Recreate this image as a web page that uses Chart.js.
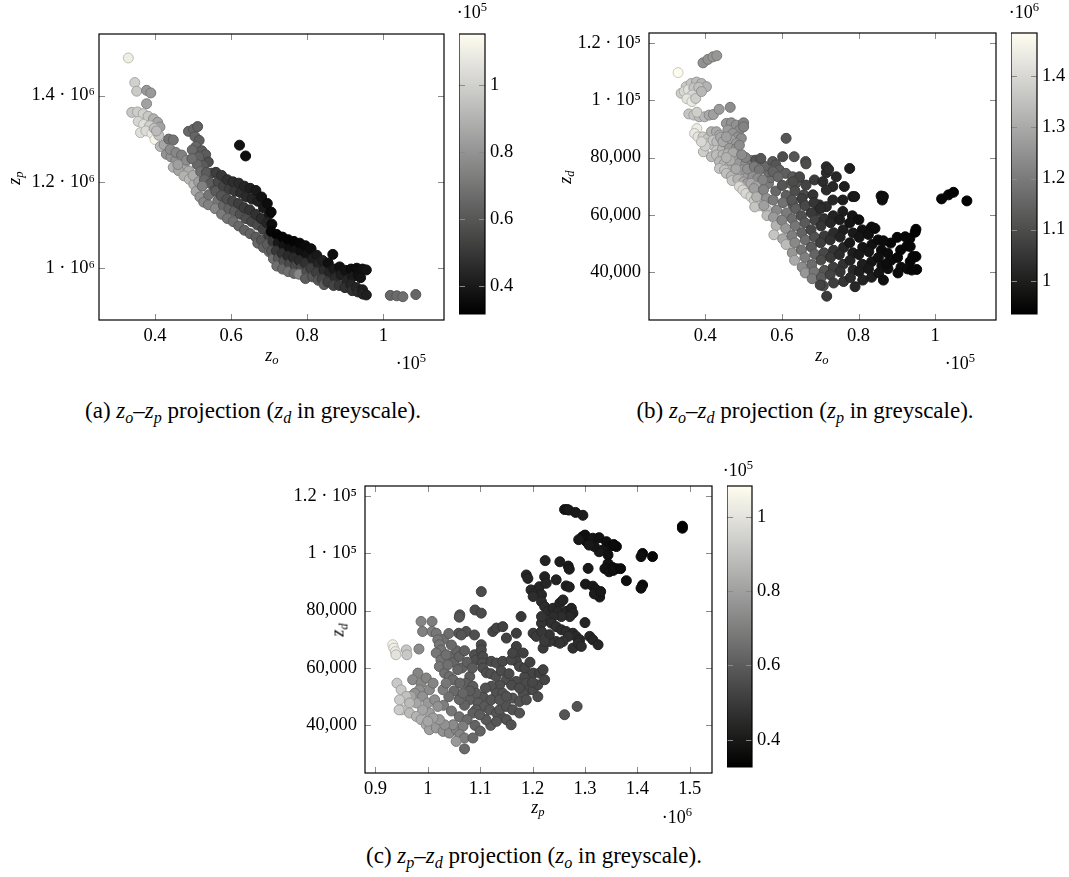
<!DOCTYPE html>
<html>
<head>
<meta charset="utf-8">
<script src="https://cdn.jsdelivr.net/npm/chart.js@4.4.1/dist/chart.umd.min.js"></script>
<style>
  body { margin: 0; background: #fff; width: 1069px; height: 877px; position: relative; overflow: hidden;
         font-family: 'Liberation Serif', 'DejaVu Serif', serif; color: #000; }
  canvas { position: absolute; }
  .t { position: absolute; transform: translate(-50%, -50%); white-space: nowrap; font-size: 18px; }
  .rot { transform: translate(-50%, -50%) rotate(-90deg); }
  .cap { position: absolute; transform: translate(-50%, -50%); white-space: nowrap; font-size: 23px; }
  sub { font-size: 70%; vertical-align: -0.3em; line-height: 0; }
  sup { font-size: 70%; vertical-align: 0.5em; line-height: 0; }
</style>
</head>
<body>
<canvas id="chartA"></canvas>
<canvas id="cbarA"></canvas>
<canvas id="chartB"></canvas>
<canvas id="cbarB"></canvas>
<canvas id="chartC"></canvas>
<canvas id="cbarC"></canvas>

<!-- axis titles and multipliers -->
<div class="t" style="left:272px;top:355px"><i>z</i><sub><i>o</i></sub></div>
<div class="t rot" style="left:14px;top:178px"><i>z</i><sub><i>p</i></sub></div>
<div class="t" style="left:411px;top:363px">·10<sup>5</sup></div>
<div class="t" style="left:472px;top:12px">·10<sup>5</sup></div>

<div class="t" style="left:822px;top:355px"><i>z</i><sub><i>o</i></sub></div>
<div class="t rot" style="left:565px;top:177px"><i>z</i><sub><i>d</i></sub></div>
<div class="t" style="left:960px;top:363px">·10<sup>5</sup></div>
<div class="t" style="left:1024px;top:12px">·10<sup>6</sup></div>

<div class="t" style="left:538px;top:807px"><i>z</i><sub><i>p</i></sub></div>
<div class="t rot" style="left:338px;top:630px"><i>z</i><sub><i>d</i></sub></div>
<div class="t" style="left:677px;top:817px">·10<sup>6</sup></div>
<div class="t" style="left:738px;top:470px">·10<sup>5</sup></div>

<!-- captions -->
<div class="cap" style="left:253px;top:411px">(a) <i>z</i><sub><i>o</i></sub>–<i>z</i><sub><i>p</i></sub> projection (<i>z</i><sub><i>d</i></sub> in greyscale).</div>
<div class="cap" style="left:805px;top:411px">(b) <i>z</i><sub><i>o</i></sub>–<i>z</i><sub><i>d</i></sub> projection (<i>z</i><sub><i>p</i></sub> in greyscale).</div>
<div class="cap" style="left:534px;top:856px">(c) <i>z</i><sub><i>p</i></sub>–<i>z</i><sub><i>d</i></sub> projection (<i>z</i><sub><i>o</i></sub> in greyscale).</div>

<script>
// Units: z_o in 1e5, z_p in 1e6, z_d in 1e5

// (a) points: [z_o, z_p, z_d]
const ptsA = [
  [0.330,1.487,1.10],[0.347,1.430,1.00],[0.352,1.410,0.98],[0.378,1.412,0.82],[0.389,1.406,0.82],[0.378,1.381,0.85],
  [0.339,1.361,0.97],[0.354,1.362,0.99],[0.369,1.358,1.00],[0.382,1.352,0.97],[0.396,1.346,0.90],[0.407,1.338,0.86],[0.413,1.327,0.85],
  [0.356,1.340,1.02],[0.370,1.333,1.05],[0.386,1.330,1.00],[0.362,1.314,1.05],[0.376,1.318,1.04],[0.392,1.312,1.08],[0.400,1.298,1.13],
  [0.410,1.308,0.96],[0.414,1.282,0.92],[0.424,1.286,0.86],[0.398,1.324,0.95],[0.404,1.318,0.93],
  [0.436,1.299,0.70],[0.448,1.297,0.70],[0.430,1.264,0.80],[0.442,1.258,0.80],[0.455,1.250,0.80],[0.467,1.244,0.84],[0.477,1.234,0.86],[0.489,1.225,0.88],
  [0.448,1.234,0.90],[0.462,1.226,0.86],[0.476,1.214,0.90],[0.490,1.206,0.92],[0.502,1.194,0.90],[0.508,1.178,0.86],[0.518,1.165,0.80],[0.528,1.153,0.76],[0.540,1.147,0.74],
  [0.440,1.275,0.78],[0.455,1.268,0.76],[0.470,1.262,0.74],[0.483,1.250,0.78],[0.460,1.240,0.84],[0.500,1.215,0.88],[0.515,1.200,0.84],
  [0.488,1.317,0.66],[0.501,1.322,0.65],[0.512,1.328,0.64],[0.505,1.305,0.65],[0.516,1.296,0.63],[0.508,1.282,0.66],[0.523,1.272,0.62],[0.533,1.263,0.62],
  [0.498,1.274,0.67],[0.515,1.258,0.64],[0.540,1.246,0.58],[0.527,1.238,0.62],[0.549,1.220,0.56],[0.511,1.240,0.66],[0.497,1.254,0.68],[0.520,1.224,0.68],
  [0.535,1.222,0.62],[0.530,1.205,0.66],[0.546,1.196,0.62],[0.524,1.190,0.74],[0.556,1.180,0.60],[0.541,1.170,0.70],
  [0.622,1.285,0.38],[0.638,1.260,0.36],
  [0.560,1.222,0.52],[0.566,1.200,0.56],[0.560,1.178,0.62],[0.565,1.156,0.70],[0.558,1.138,0.76],
  [0.575,1.215,0.50],[0.580,1.190,0.54],[0.574,1.168,0.60],[0.580,1.145,0.66],[0.575,1.125,0.72],
  [0.590,1.205,0.48],[0.595,1.183,0.52],[0.589,1.160,0.58],[0.594,1.138,0.64],[0.590,1.115,0.70],
  [0.605,1.200,0.47],[0.610,1.178,0.50],[0.604,1.155,0.55],[0.609,1.132,0.62],[0.605,1.108,0.68],
  [0.620,1.197,0.46],[0.625,1.175,0.47],[0.619,1.150,0.52],[0.624,1.125,0.58],[0.620,1.098,0.66],
  [0.635,1.190,0.44],[0.640,1.165,0.46],[0.634,1.140,0.51],[0.639,1.115,0.57],[0.635,1.088,0.64],
  [0.650,1.185,0.42],[0.655,1.160,0.44],[0.649,1.135,0.49],[0.654,1.108,0.55],[0.650,1.080,0.64],
  [0.665,1.180,0.40],[0.670,1.155,0.42],[0.664,1.125,0.48],[0.669,1.100,0.56],[0.665,1.072,0.62],[0.670,1.058,0.66],
  [0.680,1.165,0.38],[0.685,1.140,0.40],[0.679,1.115,0.46],[0.684,1.090,0.53],[0.680,1.065,0.60],[0.685,1.048,0.64],
  [0.695,1.150,0.36],[0.700,1.125,0.40],[0.694,1.105,0.44],[0.699,1.075,0.52],[0.695,1.055,0.62],[0.700,1.038,0.66],
  [0.705,1.130,0.35],[0.707,1.102,0.36],[0.705,1.085,0.34],[0.710,1.062,0.50],[0.706,1.040,0.60],[0.711,1.022,0.68],
  [0.720,1.078,0.33],[0.724,1.058,0.40],[0.719,1.040,0.50],[0.724,1.022,0.60],[0.720,1.005,0.68],
  [0.735,1.072,0.33],[0.739,1.052,0.38],[0.734,1.034,0.48],[0.739,1.016,0.58],[0.735,0.998,0.66],
  [0.750,1.066,0.33],[0.754,1.046,0.37],[0.749,1.028,0.46],[0.754,1.010,0.56],[0.750,0.992,0.68],
  [0.765,1.062,0.33],[0.769,1.042,0.38],[0.764,1.024,0.46],[0.769,1.005,0.56],[0.765,0.988,0.66],
  [0.780,1.058,0.34],[0.784,1.038,0.37],[0.779,1.018,0.46],[0.784,1.000,0.56],[0.778,0.986,0.76],
  [0.795,1.052,0.35],[0.799,1.032,0.38],[0.794,1.012,0.48],[0.799,0.992,0.58],[0.795,0.976,0.62],
  [0.810,1.045,0.36],[0.814,1.022,0.42],[0.809,1.000,0.52],[0.814,0.980,0.60],
  [0.825,1.030,0.40],[0.829,1.010,0.44],[0.824,0.990,0.52],[0.829,0.972,0.60],
  [0.840,1.018,0.42],[0.844,0.995,0.46],[0.839,0.975,0.54],[0.844,0.962,0.62],
  [0.855,1.012,0.37],[0.859,0.990,0.44],[0.854,0.968,0.52],[0.867,1.032,0.36],
  [0.870,0.998,0.40],[0.874,0.978,0.46],[0.869,0.960,0.54],
  [0.885,1.003,0.37],[0.889,0.985,0.42],[0.884,0.960,0.50],
  [0.900,0.995,0.38],[0.904,0.972,0.44],[0.899,0.955,0.48],
  [0.915,0.998,0.36],[0.919,0.980,0.40],[0.914,0.962,0.44],[0.918,0.948,0.48],
  [0.930,1.000,0.36],[0.934,0.985,0.37],[0.929,0.955,0.44],[0.933,0.945,0.46],
  [0.945,0.998,0.37],[0.940,0.978,0.38],[0.945,0.950,0.42],[0.946,0.940,0.44],
  [0.955,0.996,0.38],[0.955,0.938,0.42],
  [1.018,0.937,0.66],[1.035,0.936,0.67],[1.051,0.934,0.68],[1.085,0.939,0.65]
];

// (b) points: [z_o, z_d, z_p]
const ptsB = [
  [0.329,1.096,1.48],
  [0.394,1.130,1.25],[0.407,1.142,1.25],[0.420,1.151,1.26],[0.430,1.155,1.26],
  [0.337,1.024,1.38],[0.350,1.047,1.37],[0.363,1.058,1.36],[0.377,1.063,1.34],[0.390,1.058,1.33],[0.403,1.047,1.32],
  [0.345,1.030,1.40],[0.356,1.036,1.42],[0.370,1.043,1.36],[0.383,1.045,1.35],[0.366,1.018,1.40],[0.352,1.005,1.43],
  [0.365,0.995,1.44],[0.375,1.006,1.38],[0.390,1.030,1.33],
  [0.357,0.952,1.36],[0.370,0.948,1.36],[0.384,0.942,1.34],[0.398,0.942,1.33],[0.410,0.948,1.30],[0.421,0.950,1.28],[0.436,0.968,1.27],[0.378,0.958,1.38],
  [0.465,0.975,1.24],
  [0.378,0.901,1.45],[0.372,0.884,1.44],[0.381,0.872,1.43],
  [0.394,0.872,1.38],[0.407,0.867,1.36],[0.416,0.890,1.32],[0.429,0.890,1.30],[0.437,0.878,1.30],[0.407,0.849,1.37],[0.420,0.843,1.36],
  [0.420,0.860,1.36],[0.430,0.855,1.34],[0.440,0.870,1.30],[0.430,0.825,1.36],[0.445,0.830,1.33],[0.395,0.820,1.38],[0.400,0.840,1.38],[0.390,0.855,1.40],
  [0.455,0.919,1.26],[0.468,0.921,1.25],[0.481,0.913,1.25],[0.489,0.896,1.24],[0.500,0.921,1.22],[0.500,0.907,1.22],
  [0.459,0.896,1.27],[0.472,0.884,1.26],[0.485,0.872,1.25],[0.494,0.867,1.24],[0.468,0.861,1.28],[0.481,0.849,1.27],[0.446,0.855,1.30],[0.455,0.872,1.28],
  [0.463,0.832,1.27],[0.481,0.832,1.25],[0.489,0.843,1.24],
  [0.416,0.803,1.34],[0.429,0.809,1.34],[0.446,0.809,1.33],[0.459,0.814,1.32],[0.472,0.817,1.30],
  [0.437,0.786,1.33],[0.450,0.780,1.32],[0.463,0.768,1.31],[0.476,0.786,1.29],[0.489,0.780,1.27],[0.506,0.780,1.25],[0.498,0.757,1.27],[0.511,0.733,1.28],
  [0.481,0.745,1.30],[0.437,0.762,1.36],[0.450,0.757,1.35],
  [0.455,0.745,1.35],[0.468,0.735,1.33],[0.470,0.720,1.36],[0.485,0.725,1.32],[0.500,0.715,1.30],[0.515,0.690,1.32],[0.510,0.710,1.28],
  [0.522,0.680,1.33],[0.540,0.700,1.25],[0.545,0.680,1.28],[0.550,0.660,1.30],[0.545,0.650,1.33],[0.560,0.620,1.36],[0.570,0.600,1.36],
  [0.565,0.710,1.20],[0.570,0.730,1.18],[0.565,0.750,1.17],[0.555,0.770,1.16],[0.520,0.790,1.20],[0.505,0.800,1.22],[0.495,0.810,1.24],
  [0.510,0.760,1.25],[0.480,0.760,1.30],[0.465,0.790,1.31],[0.455,0.800,1.32],
  [0.532,0.791,1.12],[0.545,0.797,1.12],[0.528,0.768,1.20],[0.541,0.757,1.19],[0.524,0.733,1.25],[0.537,0.728,1.24],[0.550,0.722,1.22],[0.519,0.710,1.30],
  [0.489,0.699,1.40],[0.498,0.687,1.40],[0.506,0.675,1.40],[0.519,0.664,1.39],[0.528,0.650,1.38],[0.541,0.632,1.38],[0.532,0.699,1.30],
  [0.576,0.786,1.13],[0.584,0.775,1.12],[0.602,0.803,1.10],[0.632,0.803,1.12],[0.662,0.786,1.10],[0.593,0.757,1.14],[0.610,0.745,1.14],
  [0.628,0.733,1.13],[0.645,0.728,1.11],[0.636,0.710,1.12],[0.623,0.710,1.15],
  [0.611,0.867,1.12],[0.663,0.778,1.10],[0.577,0.751,1.15],[0.590,0.733,1.16],
  [0.646,0.733,1.09],[0.629,0.716,1.10],[0.663,0.704,1.08],[0.685,0.722,1.06],[0.657,0.670,1.09],[0.716,0.768,1.03],[0.716,0.747,1.03],
  [0.742,0.733,1.02],[0.777,0.762,1.00],[0.707,0.716,1.03],[0.733,0.699,1.02],[0.716,0.687,1.03],[0.763,0.699,1.00],[0.785,0.664,0.99],
  [0.859,0.666,0.97],[0.862,0.652,0.97],[0.865,0.664,0.97],
  [0.759,0.652,1.00],[0.759,0.612,1.00],[0.733,0.652,1.02],[0.681,0.670,1.05],[0.698,0.635,1.03],[0.620,0.652,1.12],[0.629,0.635,1.12],
  [0.659,0.635,1.08],[0.690,0.612,1.05],[0.716,0.629,1.03],[0.722,0.759,1.03],[0.790,0.664,0.99],
  [1.017,0.656,0.95],[1.035,0.670,0.95],[1.048,0.679,0.94],[1.083,0.649,0.94],
  [0.527,0.692,1.28],[0.534,0.663,1.32],[0.529,0.628,1.36],
  [0.552,0.688,1.22],[0.560,0.657,1.25],[0.553,0.633,1.28],[0.561,0.598,1.34],
  [0.584,0.683,1.16],[0.577,0.652,1.20],[0.586,0.617,1.23],[0.578,0.592,1.27],[0.585,0.563,1.32],[0.579,0.531,1.36],
  [0.601,0.703,1.12],[0.611,0.668,1.14],[0.603,0.643,1.18],[0.612,0.607,1.20],[0.600,0.582,1.22],[0.610,0.553,1.26],[0.602,0.517,1.30],[0.611,0.497,1.34],
  [0.634,0.684,1.10],[0.626,0.652,1.12],[0.636,0.622,1.14],[0.627,0.587,1.17],[0.635,0.562,1.19],[0.626,0.528,1.21],[0.634,0.503,1.23],[0.627,0.468,1.26],[0.633,0.442,1.30],
  [0.652,0.657,1.07],[0.661,0.632,1.09],[0.651,0.597,1.11],[0.660,0.573,1.13],[0.652,0.538,1.15],[0.661,0.513,1.17],[0.651,0.478,1.19],[0.660,0.452,1.21],[0.653,0.418,1.24],[0.661,0.398,1.26],
  [0.684,0.643,1.05],[0.677,0.607,1.06],[0.686,0.582,1.08],[0.676,0.548,1.09],[0.685,0.523,1.11],[0.677,0.488,1.13],[0.686,0.463,1.15],[0.678,0.427,1.17],[0.684,0.402,1.19],[0.679,0.378,1.20],
  [0.701,0.623,1.03],[0.710,0.587,1.04],[0.702,0.562,1.05],[0.711,0.527,1.06],[0.701,0.503,1.07],[0.710,0.468,1.09],[0.702,0.443,1.10],[0.711,0.407,1.12],[0.703,0.383,1.13],[0.708,0.353,1.10],
  [0.734,0.597,1.01],[0.727,0.573,1.02],[0.735,0.538,1.03],[0.726,0.513,1.04],[0.735,0.477,1.05],[0.727,0.452,1.06],[0.734,0.418,1.07],[0.726,0.392,1.08],[0.735,0.363,1.07],
  [0.751,0.583,1.00],[0.760,0.548,1.00],[0.752,0.523,1.01],[0.761,0.487,1.02],[0.750,0.462,1.03],[0.760,0.428,1.04],[0.752,0.402,1.05],[0.761,0.368,1.05],
  [0.784,0.597,0.98],[0.777,0.572,0.98],[0.786,0.537,0.99],[0.777,0.503,0.99],[0.785,0.468,1.00],[0.778,0.442,1.01],[0.786,0.408,1.02],[0.779,0.382,1.03],
  [0.801,0.583,0.97],[0.810,0.548,0.97],[0.802,0.522,0.98],[0.811,0.487,0.98],[0.801,0.462,0.99],[0.810,0.428,1.00],[0.802,0.403,1.00],[0.811,0.373,1.01],
  [0.834,0.558,0.96],[0.826,0.532,0.97],[0.835,0.497,0.97],[0.827,0.472,0.98],[0.834,0.437,0.98],[0.826,0.412,0.99],[0.834,0.383,1.00],
  [0.851,0.513,0.96],[0.860,0.478,0.96],[0.852,0.452,0.97],[0.861,0.423,0.97],[0.853,0.398,0.98],
  [0.884,0.502,0.95],[0.876,0.467,0.96],[0.885,0.442,0.96],[0.877,0.413,0.97],
  [0.901,0.522,0.95],[0.910,0.478,0.95],[0.902,0.452,0.95],[0.911,0.418,0.96],[0.903,0.398,0.96],
  [0.934,0.518,0.95],[0.927,0.492,0.95],[0.935,0.438,0.95],[0.928,0.412,0.96],
  [0.950,0.550,0.94],[0.948,0.540,0.94],[0.950,0.455,0.95],[0.952,0.410,0.95],
  [0.843,0.553,0.96],[0.865,0.510,0.96],[0.922,0.524,0.95],[0.935,0.490,0.95],[0.942,0.455,0.95],[0.939,0.408,0.95],
  [0.874,0.431,0.96],[0.865,0.373,0.97],[0.791,0.350,1.02],[0.717,0.317,1.06],[0.700,0.356,1.08]
];

// (c) points: [z_p, z_d, z_o]
const ptsC = [
  [1.261,1.152,0.39],[1.266,1.152,0.39],[1.269,1.150,0.40],[1.282,1.142,0.40],[1.296,1.132,0.41],
  [1.486,1.094,0.33],[1.486,1.087,0.33],
  [1.295,1.057,0.38],[1.303,1.040,0.38],[1.312,1.034,0.39],[1.300,1.063,0.37],[1.315,1.052,0.39],[1.327,1.054,0.38],[1.341,1.040,0.37],
  [1.347,1.023,0.37],[1.334,1.011,0.39],[1.344,0.994,0.38],[1.360,1.023,0.36],[1.327,1.005,0.40],[1.318,1.023,0.39],[1.308,1.028,0.40],
  [1.288,1.047,0.40],[1.355,1.030,0.36],
  [1.410,0.999,0.36],[1.407,0.988,0.37],[1.429,0.988,0.35],
  [1.344,0.964,0.38],[1.353,0.950,0.37],[1.360,0.946,0.37],[1.338,0.946,0.38],[1.346,0.935,0.38],[1.354,0.940,0.37],[1.368,0.946,0.36],
  [1.306,0.947,0.40],[1.268,0.955,0.41],[1.270,0.944,0.41],[1.252,0.970,0.42],[1.224,0.974,0.43],
  [1.379,0.904,0.37],[1.410,0.889,0.36],[1.407,0.878,0.37],
  [1.301,0.892,0.40],[1.315,0.885,0.40],[1.321,0.873,0.40],[1.325,0.858,0.40],[1.328,0.847,0.40],[1.318,0.858,0.41],[1.330,0.866,0.40],
  [1.264,0.886,0.42],[1.270,0.882,0.42],[1.245,0.907,0.43],
  [1.188,0.924,0.44],[1.191,0.912,0.44],[1.197,0.872,0.45],[1.204,0.860,0.45],[1.213,0.883,0.44],[1.217,0.855,0.45],[1.201,0.849,0.46],
  [1.223,0.918,0.43],[1.226,0.895,0.44],[1.217,0.831,0.46],[1.223,0.814,0.46],[1.229,0.797,0.46],[1.239,0.808,0.45],[1.252,0.826,0.44],
  [1.258,0.837,0.44],[1.248,0.797,0.45],[1.264,0.797,0.44],[1.274,0.808,0.43],[1.277,0.791,0.44],[1.271,0.779,0.45],[1.255,0.779,0.46],
  [1.239,0.779,0.46],[1.226,0.767,0.47],[1.217,0.756,0.48],[1.236,0.756,0.47],[1.245,0.744,0.47],[1.255,0.733,0.46],[1.264,0.727,0.46],
  [1.277,0.721,0.45],[1.283,0.710,0.45],[1.290,0.698,0.45],[1.268,0.710,0.47],[1.258,0.692,0.48],[1.245,0.692,0.48],[1.232,0.692,0.49],
  [1.252,0.686,0.48],[1.277,0.669,0.47],[1.287,0.686,0.46],[1.293,0.675,0.46],[1.309,0.710,0.44],[1.315,0.698,0.44],[1.325,0.681,0.44],
  [1.217,0.779,0.48],[1.201,0.721,0.50],[1.207,0.710,0.50],[1.220,0.669,0.50],[1.232,0.716,0.48],[1.217,0.727,0.49],[1.223,0.692,0.50],
  [1.300,0.758,0.44],
  [1.102,0.866,0.55],[1.090,0.802,0.55],[1.102,0.791,0.55],[1.061,0.785,0.58],[1.060,0.777,0.58],[1.073,0.727,0.57],[1.089,0.715,0.56],
  [1.124,0.727,0.53],[1.131,0.739,0.53],[1.143,0.744,0.52],[1.150,0.704,0.52],[1.169,0.721,0.51],[1.178,0.779,0.49],[1.169,0.675,0.52],
  [1.182,0.652,0.52],[1.166,0.640,0.53],[1.169,0.623,0.53],
  [1.089,0.646,0.56],[1.092,0.628,0.56],[1.102,0.681,0.55],[1.102,0.663,0.55],[1.105,0.640,0.55],[1.104,0.617,0.56],[1.105,0.600,0.56],[1.112,0.583,0.56],
  [1.121,0.623,0.55],[1.131,0.617,0.55],[1.143,0.623,0.54],[1.159,0.628,0.54],[1.162,0.652,0.53],[1.175,0.605,0.54],[1.185,0.570,0.54],
  [1.188,0.547,0.55],[1.201,0.582,0.53],[1.213,0.582,0.52],[1.220,0.594,0.52],[1.194,0.524,0.55],[1.182,0.512,0.56],[1.169,0.553,0.55],
  [1.150,0.559,0.56],[1.137,0.541,0.56],[1.121,0.536,0.57],[1.131,0.512,0.57],[1.143,0.512,0.57],[1.162,0.495,0.57],[1.175,0.483,0.57],
  [1.188,0.489,0.56],[1.201,0.524,0.55],[1.210,0.541,0.54],[1.223,0.559,0.53],
  [1.120,0.580,0.56],[1.130,0.570,0.56],[1.140,0.590,0.55],[1.155,0.580,0.55],[1.160,0.540,0.55],[1.175,0.530,0.55],[1.185,0.600,0.53],
  [1.195,0.620,0.52],[1.200,0.550,0.54],[1.210,0.500,0.55],[1.140,0.430,0.58],[1.120,0.400,0.60],[1.105,0.500,0.58],[1.110,0.530,0.57],
  [1.080,0.570,0.60],[1.073,0.547,0.61],[1.086,0.536,0.60],[1.092,0.512,0.60],[1.080,0.489,0.61],[1.096,0.478,0.60],[1.108,0.466,0.59],
  [1.118,0.454,0.59],[1.092,0.454,0.60],[1.131,0.443,0.58],[1.137,0.454,0.58],[1.150,0.466,0.57],[1.162,0.454,0.57],[1.175,0.443,0.57],
  [1.111,0.420,0.59],[1.131,0.414,0.58],[1.150,0.420,0.57],[1.159,0.402,0.57],[1.086,0.443,0.61],[1.099,0.437,0.60],[1.121,0.489,0.58],
  [1.137,0.489,0.58],[1.150,0.501,0.57],
  [1.261,0.437,0.58],[1.285,0.466,0.57],[1.059,0.721,0.58],[1.064,0.715,0.58],
  [1.045,0.640,0.64],[1.050,0.620,0.63],[1.055,0.660,0.63],[1.045,0.680,0.64],[1.030,0.700,0.66],[1.040,0.720,0.65],[1.060,0.640,0.62],
  [1.065,0.600,0.62],[1.075,0.620,0.61],[1.070,0.660,0.61],[1.085,0.600,0.60],[1.080,0.520,0.60],[1.070,0.470,0.62],[1.060,0.490,0.63],
  [1.050,0.520,0.64],[1.040,0.500,0.66],[1.030,0.470,0.70],[1.045,0.450,0.68],[1.060,0.430,0.66],[1.075,0.420,0.64],[1.090,0.400,0.62],[1.100,0.380,0.62],
  [0.987,0.762,0.72],[1.008,0.762,0.70],[0.990,0.727,0.71],[1.008,0.727,0.70],[0.983,0.666,0.74],[0.959,0.663,0.92],[0.960,0.646,0.92],
  [0.933,0.681,1.05],[0.935,0.669,1.04],[0.938,0.657,1.03],[0.939,0.646,1.00],
  [1.016,0.721,0.68],[1.019,0.698,0.68],[1.022,0.681,0.68],[1.025,0.663,0.67],[1.016,0.652,0.68],[1.025,0.628,0.67],[1.022,0.605,0.68],
  [1.032,0.582,0.66],[1.035,0.646,0.66],[1.038,0.611,0.66],[1.041,0.570,0.65],[1.048,0.559,0.64],[1.057,0.594,0.63],[1.061,0.547,0.63],
  [1.067,0.512,0.63],[1.029,0.524,0.70],[1.035,0.547,0.68],
  [0.981,0.582,0.72],[0.971,0.559,0.74],[0.987,0.547,0.73],[0.997,0.565,0.72],[0.984,0.524,0.75],[0.975,0.512,0.76],[0.990,0.501,0.76],
  [1.003,0.524,0.74],[1.010,0.547,0.72],[1.000,0.478,0.78],[1.013,0.489,0.75],[1.019,0.466,0.76],[1.003,0.443,0.80],[0.990,0.454,0.82],
  [0.978,0.478,0.82],[0.968,0.501,0.82],
  [0.941,0.547,0.92],[0.949,0.524,0.92],[0.959,0.501,0.90],[0.946,0.489,0.93],[0.965,0.478,0.88],[0.950,0.454,0.92],[0.965,0.443,0.88],
  [0.945,0.454,0.93],[0.978,0.431,0.86],[0.987,0.420,0.85],[0.997,0.402,0.83],[1.003,0.385,0.80],[1.016,0.391,0.78],[1.029,0.379,0.76],
  [1.041,0.373,0.74],[1.054,0.385,0.72],[1.067,0.397,0.70],[1.048,0.402,0.74],[1.061,0.368,0.72],[1.070,0.356,0.70],[1.054,0.344,0.78],
  [1.070,0.318,0.64],[1.086,0.356,0.64],[1.032,0.402,0.76],[1.022,0.420,0.78],[1.010,0.426,0.80],[1.000,0.414,0.82]
];

// tick positions
const zoTicks = [0.4, 0.6, 0.8, 1];
const zpTicksA = [1, 1.2, 1.4];
const zdTicks = [0.4, 0.6, 0.8, 1, 1.2];
const zpTicksC = [0.9, 1, 1.1, 1.2, 1.3, 1.4, 1.5];
const cbTicksA = [0.4, 0.6, 0.8, 1];
const cbTicksB = [1, 1.1, 1.2, 1.3, 1.4];
const cbTicksC = [0.4, 0.6, 0.8, 1];

// axis and colour ranges
const zoRange = [0.253, 1.159];
const zpRange = [0.880, 1.5425];
const zdRange = [0.234, 1.234];
const zdColour = [0.318, 1.153];
const zpColour = [0.935, 1.485];
const zoColour = [0.327, 1.083];

Chart.defaults.font.family = "'Liberation Serif', 'DejaVu Serif', serif";
Chart.defaults.font.size = 18.5;
Chart.defaults.color = '#000';

// Function to map a value to the grey colormap
function greyRGB(v, range) {
  let t = (v - range[0]) / (range[1] - range[0]);
  t = Math.max(0, Math.min(1, t));
  const r = Math.round(255 * t);
  const b = Math.round(255 * t - 16 * Math.pow(t, 8));
  return [r, r - Math.round(2 * Math.pow(t, 8)), b];
}

function rgbStr(c, k) {
  return `rgb(${Math.round(c[0] * k)}, ${Math.round(c[1] * k)}, ${Math.round(c[2] * k)})`;
}

// Tick label formats
function plainLabel(v) { return String(v); }
function zpLabel(v) { return v + ' · 10⁶'; }
function zdLabel(v) {
  if (v < 1) return Math.round(v * 1e5).toLocaleString('en-US');
  return v + ' · 10⁵';
}

// Inner tick marks on both sides and a box round the plot area
const frame = {
  id: 'frame',
  afterDraw(chart) {
    const ctx = chart.ctx;
    const a = chart.chartArea;
    ctx.save();
    ctx.strokeStyle = '#8a8a8a';
    ctx.lineWidth = 1;
    Object.values(chart.scales).forEach(scale => {
      if (!scale.options.display) return;
      scale.ticks.forEach(tick => {
        const p = Math.round(scale.getPixelForValue(tick.value)) + 0.5;
        ctx.beginPath();
        if (scale.isHorizontal()) {
          ctx.moveTo(p, a.bottom); ctx.lineTo(p, a.bottom - 6);
          ctx.moveTo(p, a.top); ctx.lineTo(p, a.top + 6);
        } else {
          ctx.moveTo(a.left, p); ctx.lineTo(a.left + 6, p);
          ctx.moveTo(a.right, p); ctx.lineTo(a.right - 6, p);
        }
        ctx.stroke();
      });
    });
    ctx.strokeStyle = '#000';
    ctx.lineWidth = 1.2;
    ctx.strokeRect(a.left, a.top, a.right - a.left, a.bottom - a.top);
    ctx.restore();
  }
};

function placeCanvas(id, left, top, w, h) {
  const cv = document.getElementById(id);
  cv.width = w; cv.height = h;
  cv.style.left = left + 'px'; cv.style.top = top + 'px';
  cv.style.width = w + 'px'; cv.style.height = h + 'px';
  return cv;
}

// Function to build one scatter panel
function scatterPanel(id, box, pts, xRange, yRange, cRange, xTicks, yTicks, xFmt, yFmt, yPad) {
  const cv = placeCanvas(id, box.l - 110, box.t - 20, box.r - box.l + 130, box.b - box.t + 60);
  const cols = pts.map(p => greyRGB(p[2], cRange));
  return new Chart(cv, {
    type: 'scatter',
    data: {
      datasets: [{
        data: pts.map(p => ({ x: p[0], y: p[1] })),
        pointRadius: 5,
        borderWidth: 1,
        backgroundColor: ctx => rgbStr(cols[ctx.dataIndex], 1),
        borderColor: ctx => rgbStr(cols[ctx.dataIndex], 0.8)
      }]
    },
    options: {
      responsive: false,
      animation: false,
      layout: { padding: { left: 0, top: 20, right: 20, bottom: 0 } },
      plugins: { legend: { display: false }, tooltip: { enabled: false } },
      scales: {
        x: {
          type: 'linear', min: xRange[0], max: xRange[1],
          grid: { display: false, drawTicks: false }, border: { display: false },
          afterBuildTicks: s => { s.ticks = xTicks.map(v => ({ value: v })); },
          afterFit: s => { s.height = 40; },
          ticks: { padding: 5, maxRotation: 0, callback: v => xFmt(v) }
        },
        y: {
          type: 'linear', min: yRange[0], max: yRange[1],
          grid: { display: false, drawTicks: false }, border: { display: false },
          afterBuildTicks: s => { s.ticks = yTicks.map(v => ({ value: v })); },
          afterFit: s => { s.width = 110; },
          ticks: { padding: yPad, callback: v => yFmt(v) }
        }
      }
    },
    plugins: [frame]
  });
}

// Function to build a colour bar
function colourBar(id, box, cRange, ticks) {
  const cv = placeCanvas(id, box.l, box.t - 20, box.r - box.l + 50, box.b - box.t + 30);
  return new Chart(cv, {
    type: 'bar',
    data: {
      labels: [''],
      datasets: [{
        data: [[cRange[0], cRange[1]]],
        barPercentage: 1,
        categoryPercentage: 1,
        borderWidth: 0,
        backgroundColor: ctx => {
          const a = ctx.chart.chartArea;
          if (!a) return '#888';
          const g = ctx.chart.ctx.createLinearGradient(0, a.bottom, 0, a.top);
          for (let i = 0; i <= 10; i++) {
            const v = cRange[0] + (cRange[1] - cRange[0]) * i / 10;
            g.addColorStop(i / 10, rgbStr(greyRGB(v, cRange), 1));
          }
          return g;
        }
      }]
    },
    options: {
      responsive: false,
      animation: false,
      layout: { padding: { left: 0, top: 20, right: 0, bottom: 10 } },
      plugins: { legend: { display: false }, tooltip: { enabled: false } },
      scales: {
        x: { display: false },
        y: {
          position: 'right', min: cRange[0], max: cRange[1],
          grid: { display: false, drawTicks: false }, border: { display: false },
          afterBuildTicks: s => { s.ticks = ticks.map(v => ({ value: v })); },
          afterFit: s => { s.width = 50; },
          ticks: { padding: 5, callback: v => String(v) }
        }
      }
    },
    plugins: [frame]
  });
}

// (a) z_o - z_p
scatterPanel('chartA', { l: 99, t: 34, r: 444, b: 320 }, ptsA, zoRange, zpRange, zdColour,
  zoTicks, zpTicksA, plainLabel, zpLabel, 4);
colourBar('cbarA', { l: 459, t: 34, r: 485, b: 320 }, zdColour, cbTicksA);

// (b) z_o - z_d
scatterPanel('chartB', { l: 649, t: 33, r: 996, b: 320 }, ptsB, zoRange, zdRange, zpColour,
  zoTicks, zdTicks, plainLabel, zdLabel, 8);
colourBar('cbarB', { l: 1011, t: 33, r: 1037, b: 320 }, zpColour, cbTicksB);

// (c) z_p - z_d
scatterPanel('chartC', { l: 365, t: 486, r: 712, b: 773 }, ptsC, zpRange, zdRange, zoColour,
  zpTicksC, zdTicks, plainLabel, zdLabel, 8);
colourBar('cbarC', { l: 727, t: 486, r: 752, b: 773 }, zoColour, cbTicksC);
</script>
</body>
</html>
